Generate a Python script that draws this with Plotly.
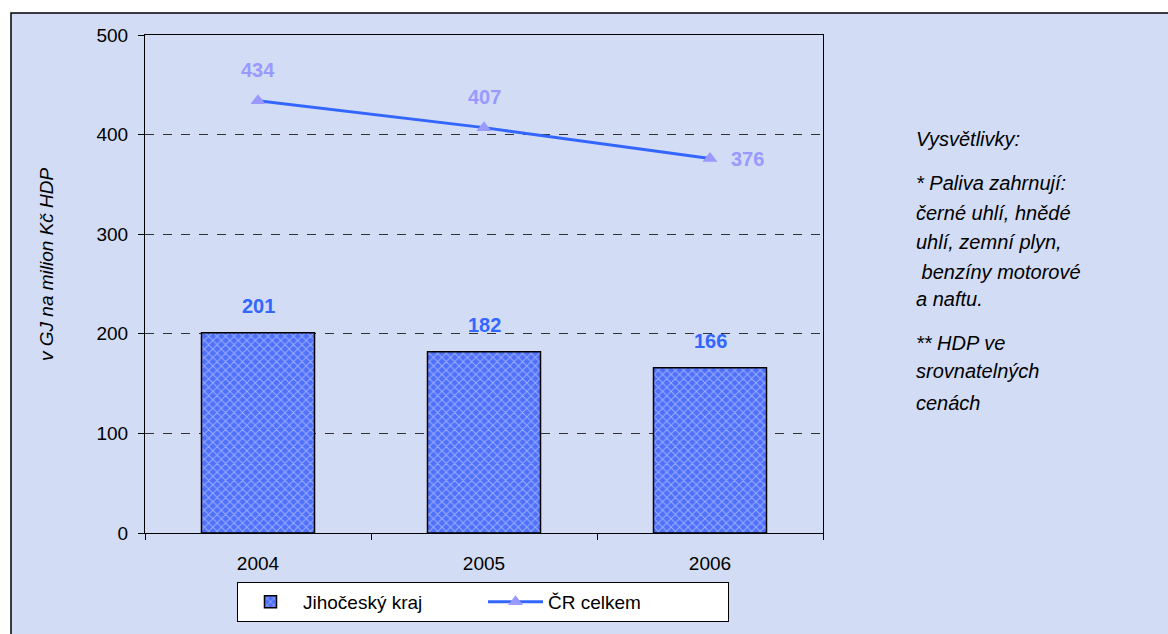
import plotly.graph_objects as go

years = ["2004", "2005", "2006"]
kraj_values = [201, 182, 166]
cr_values = [434, 407, 376]
kraj_name = "Jihočeský kraj"
cr_name = "ČR celkem"
y_title = "v GJ na milion Kč HDP"
y_ticks = [0, 100, 200, 300, 400, 500]
notes = ["Vysvětlivky:", "* Paliva zahrnují:", "černé uhlí, hnědé", "uhlí, zemní plyn,",
         " benzíny motorové", "a naftu.", "** HDP ve", "srovnatelných", "cenách"]
note_y = [139, 183, 213, 242, 272, 299, 343, 371, 403]

FONT = "Arial, Liberation Sans, sans-serif"
W, H = 1168, 634
L, R, T, B = 145, 345, 35, 101
PW, PH = W - L - R, H - T - B

fig = go.Figure()
fig.add_trace(go.Bar(
    x=years, y=kraj_values, name=kraj_name,
    marker=dict(color="#5575ff", line=dict(color="black", width=1.5),
                pattern=dict(shape="x", fgcolor="#e6ecff", bgcolor="#4f70fb", size=6, solidity=0.3)),
))
fig.add_trace(go.Scatter(
    x=years, y=cr_values, name=cr_name, mode="lines+markers",
    line=dict(color="#3366ff", width=3),
    marker=dict(symbol="triangle-up", color="#9999ff", size=13),
))

for i, v in enumerate(kraj_values):
    fig.add_annotation(x=i, y=v, text=f"<b>{v}</b>", showarrow=False, yshift=27,
                       font=dict(family=FONT, size=20, color="#3366ff"))
for i, v in enumerate(cr_values):
    if i == len(cr_values) - 1:
        fig.add_annotation(x=i, y=v, text=f"<b>{v}</b>", showarrow=False, xshift=37,
                           font=dict(family=FONT, size=20, color="#9999ff"))
    else:
        fig.add_annotation(x=i, y=v, text=f"<b>{v}</b>", showarrow=False, yshift=31,
                           font=dict(family=FONT, size=20, color="#9999ff"))

for txt, py in zip(notes, note_y):
    fig.add_annotation(xref="paper", yref="paper", x=(914 - L) / PW,
                       y=1 - (py - T) / PH, xanchor="left", yanchor="middle",
                       text=f"<i>{txt}</i>", showarrow=False,
                       font=dict(family=FONT, size=20, color="black"))

# y-axis title as rotated annotation
fig.add_annotation(xref="paper", yref="paper", x=(46 - L) / PW, y=1 - (264 - T) / PH,
                   text=f"<i>{y_title}</i>", textangle=-90, showarrow=False,
                   xanchor="center", yanchor="middle",
                   font=dict(family=FONT, size=19, color="black"))

# background frame
fig.add_shape(type="rect", xref="paper", yref="paper", layer="below",
              x0=(11 - L) / PW, x1=(1180 - L) / PW,
              y0=-(650 - H + B) / PH, y1=1 + (T - 13) / PH,
              fillcolor="#d2dcf4", line=dict(color="black", width=1.5))

fig.update_layout(
    width=W, height=H,
    margin=dict(l=L, r=R, t=T, b=B, pad=0, autoexpand=False),
    paper_bgcolor="white", plot_bgcolor="white",
    font=dict(family=FONT, size=19, color="black"),
    bargap=0.5,
    showlegend=True,
    legend=dict(orientation="h", x=(237 - L) / PW, xanchor="left",
                y=-(582 - (H - B)) / PH, yanchor="top",
                bgcolor="white", bordercolor="black", borderwidth=1,
                font=dict(family=FONT, size=19), itemwidth=55, entrywidth=175,
                tracegroupgap=0),
    xaxis=dict(type="category", range=[-0.5, 2.5], showline=True, linecolor="black",
               linewidth=1, mirror=True,
               ticks="outside", tickson="boundaries", ticklen=6, tickcolor="black",
               ticklabelstandoff=13, showgrid=False, tickfont=dict(size=19)),
    yaxis=dict(range=[0, 500], tickvals=y_ticks, showline=True, linecolor="black", linewidth=1,
               mirror=True, ticks="outside", ticklen=6, tickcolor="black",
               showgrid=True, gridcolor="#333333", griddash="dash", gridwidth=1,
               zeroline=False, tickfont=dict(size=19), ticklabelstandoff=6),
)

fig.write_html("out.html", config={"displayModeBar": False},
               post_script="document.body.style.margin='0';")
